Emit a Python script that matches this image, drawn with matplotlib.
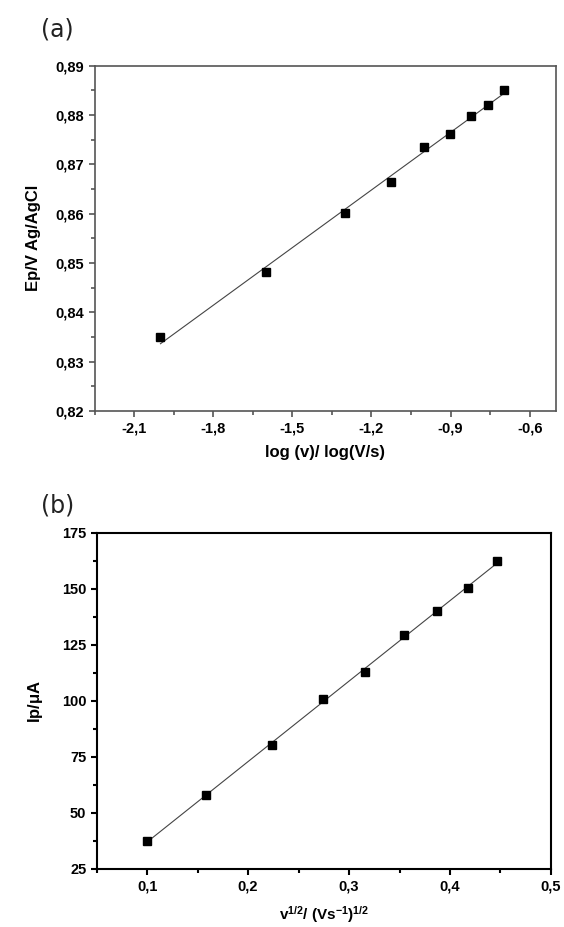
import numpy as np
import matplotlib
matplotlib.use('Agg')
import matplotlib.pyplot as plt
from matplotlib.ticker import FuncFormatter, MultipleLocator

plt.rcParams['font.family'] = ['Liberation Sans', 'DejaVu Sans']
plt.rcParams['mathtext.default'] = 'regular'

# scan rates v (V/s)
logv = [-2.0, -1.6, -1.3, -1.125, -1.0, -0.903, -0.824, -0.757, -0.699]
Ep = [0.8349, 0.8481, 0.8602, 0.8665, 0.8735, 0.8762, 0.8797, 0.8820, 0.8850]

sqrtv = [0.100, 0.158, 0.224, 0.274, 0.316, 0.354, 0.387, 0.418, 0.447]
Ip = [37.5, 58.0, 80.4, 100.8, 112.8, 129.3, 140.3, 150.3, 162.5]


def comma(fmt):
    return FuncFormatter(lambda v, p: (fmt % v).replace('.', ','))


def style(ax, col, lw):
    for s in ax.spines.values():
        s.set_color(col)
        s.set_linewidth(lw)
    ax.tick_params(which='both', direction='out', top=False, right=False,
                   color=col, width=lw, labelsize=10.5, pad=3)
    ax.tick_params(which='major', length=4.5)
    ax.tick_params(which='minor', length=3)
    for t in ax.get_xticklabels() + ax.get_yticklabels():
        t.set_fontweight('bold')


fig = plt.figure(figsize=(5.64, 9.27), dpi=100)

# (a) Ep vs log v
ax1 = fig.add_axes([0.1676, 0.5566, 0.8183, 0.3727])
ax1.plot(logv, Ep, 's', color='black', ms=6, zorder=3)
k = np.polyfit(logv, Ep, 1)
xx = np.array([min(logv), max(logv)])
ax1.plot(xx, np.polyval(k, xx), color='#444444', lw=0.8)
ax1.set_xlim(-2.25, -0.5)
ax1.set_ylim(0.82, 0.89)
ax1.xaxis.set_minor_locator(MultipleLocator(0.15))
ax1.set_xticks(np.arange(-2.1, -0.55, 0.3))
ax1.yaxis.set_major_locator(MultipleLocator(0.01))
ax1.yaxis.set_minor_locator(MultipleLocator(0.005))
ax1.xaxis.set_major_formatter(comma('%.1f'))
ax1.yaxis.set_major_formatter(comma('%.2f'))
style(ax1, '#555555', 1.2)
ax1.set_xlabel('log (v)/ log(V/s)', fontsize=12, fontweight='bold', labelpad=7)
ax1.set_ylabel('Ep/V Ag/AgCl', fontsize=12, fontweight='bold', labelpad=10)

# (b) Ip vs v^1/2
ax2 = fig.add_axes([0.1714, 0.0626, 0.8055, 0.3625])
ax2.plot(sqrtv, Ip, 's', color='black', ms=5.5, zorder=3)
k2 = np.polyfit(sqrtv, Ip, 1)
xx2 = np.array([min(sqrtv), max(sqrtv)])
ax2.plot(xx2, np.polyval(k2, xx2), color='#444444', lw=0.8)
ax2.set_xlim(0.05, 0.5)
ax2.set_ylim(25, 175)
ax2.xaxis.set_major_locator(MultipleLocator(0.1))
ax2.xaxis.set_minor_locator(MultipleLocator(0.05))
ax2.yaxis.set_major_locator(MultipleLocator(25))
ax2.yaxis.set_minor_locator(MultipleLocator(12.5))
ax2.xaxis.set_major_formatter(comma('%.1f'))
style(ax2, 'black', 1.5)
ax2.set_xlabel(r'v$^{1/2}$/ (Vs$^{-1}$)$^{1/2}$', fontsize=11, fontweight='bold', labelpad=8)
ax2.set_ylabel(r'Ip/$\mu$A', fontsize=12, fontweight='bold', labelpad=12)

fig.text(0.073, 0.968, '(a)', fontsize=17, family='DejaVu Sans', color='#222222', va='center')
fig.text(0.073, 0.455, '(b)', fontsize=17, family='DejaVu Sans', color='#222222', va='center')

fig.savefig('out.png', dpi=100)
